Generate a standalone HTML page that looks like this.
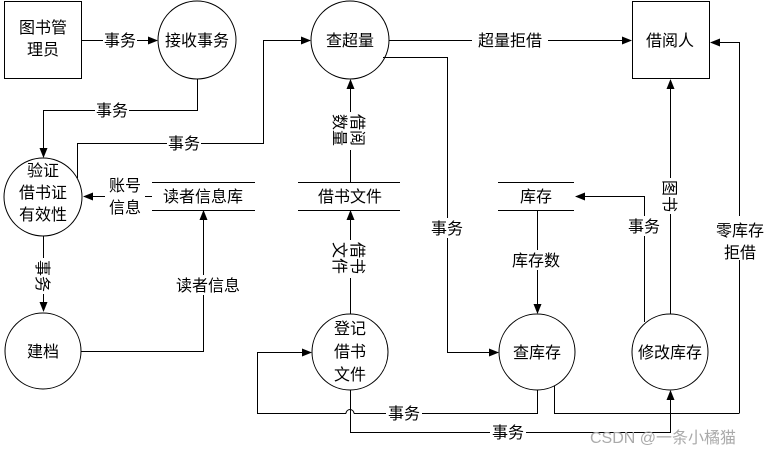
<!DOCTYPE html>
<html><head><meta charset="utf-8"><style>
html,body{margin:0;padding:0;background:#fff;}
svg{display:block;}
text{font-family:"Liberation Sans","Noto Sans CJK SC",sans-serif;font-size:16px;fill:#000;}
</style></head><body>
<svg width="778" height="454" viewBox="0 0 778 454" xmlns="http://www.w3.org/2000/svg">
<defs><marker id="a" markerWidth="10" markerHeight="8" refX="9" refY="4" orient="auto" markerUnits="userSpaceOnUse"><path d="M0,0 L10,4 L0,8 z" fill="#000"/></marker></defs>
<g fill="none" stroke="#000" stroke-width="1">
<rect x="4.5" y="1.5" width="77" height="77"/>
<rect x="252.5" y="1.5" width="0" height="0"/>
<rect x="632.5" y="1.5" width="77" height="77"/>
<circle cx="197" cy="40" r="39"/>
<circle cx="350" cy="40" r="39"/>
<circle cx="43" cy="197" r="39"/>
<circle cx="43" cy="351" r="38"/>
<circle cx="350" cy="352" r="38"/>
<circle cx="537" cy="352" r="38"/>
<circle cx="670" cy="352" r="38"/>
<!-- stores -->
<path d="M152 182.5H255M152 210.5H255"/>
<path d="M298 182.5H400M298 210.5H400"/>
<path d="M498 182.5H574M498 210.5H574"/>
<!-- connectors -->
<path d="M81 40.5H157" marker-end="url(#a)"/>
<path d="M197.5 79V110.5H43.5V157" marker-end="url(#a)"/>
<path d="M77.5 178V143.5H263.5V40.5H310" marker-end="url(#a)"/>
<path d="M152 196.5H84" marker-end="url(#a)"/>
<path d="M81 351.5H203.5V211" marker-end="url(#a)"/>
<path d="M389 40.5H631" marker-end="url(#a)"/>
<path d="M383 57.5H447.5V352.5H498" marker-end="url(#a)"/>
<path d="M350.5 182V80" marker-end="url(#a)"/>
<path d="M350.5 314V211" marker-end="url(#a)"/>
<path d="M537.5 210V313" marker-end="url(#a)"/>
<path d="M644.5 322V196.5H576" marker-end="url(#a)"/>
<path d="M670.5 314V80" marker-end="url(#a)"/>
<path d="M739.5 413V42.5H711" marker-end="url(#a)"/>
<path d="M554.5 386V413.5H739.5"/>
<path d="M537.5 390V413.5H354M346 413.5H257.5V352.5H311" marker-end="url(#a)"/>
<path d="M346 413.5A4 4 0 0 1 354 413.5"/>
<path d="M350.5 390V432.5H670.5V391" marker-end="url(#a)"/>
<path d="M43.5 236V311" marker-end="url(#a)"/>
</g>
<!-- label backgrounds -->
<g fill="#fff">
<rect x="103" y="30" width="34" height="20"/>
<rect x="95" y="100" width="34" height="20"/>
<rect x="167" y="133" width="34" height="20"/>
<rect x="105" y="175" width="40" height="42"/>
<rect x="172" y="275" width="72" height="20"/>
<rect x="472" y="30" width="76" height="20"/>
<rect x="429" y="218" width="36" height="20"/>
<rect x="505" y="250" width="62" height="20"/>
<rect x="624" y="216" width="40" height="20"/>
<rect x="714" y="216" width="52" height="44"/>
<rect x="386" y="403" width="36" height="20"/>
<rect x="490" y="422" width="36" height="20"/>
<rect x="329" y="112" width="42" height="38"/>
<rect x="329" y="240" width="42" height="38"/>
<rect x="30" y="258" width="26" height="36"/>
<rect x="658" y="178" width="26" height="36"/>
</g>
<g text-anchor="middle">
<text x="43" y="33">图书管</text><text x="43" y="55">理员</text>
<text x="197" y="46">接收事务</text>
<text x="350" y="46">查超量</text>
<text x="670" y="46">借阅人</text>
<text x="43" y="176">验证</text><text x="43" y="198">借书证</text><text x="43" y="220">有效性</text>
<text x="43" y="357">建档</text>
<text x="350" y="334">登记</text><text x="350" y="357">借书</text><text x="350" y="380">文件</text>
<text x="537" y="358">查库存</text>
<text x="670" y="358">修改库存</text>
<text x="203" y="202">读者信息库</text>
<text x="350" y="202">借书文件</text>
<text x="536" y="202">库存</text>
<text x="120" y="46">事务</text>
<text x="112" y="116">事务</text>
<text x="184" y="149">事务</text>
<text x="125" y="191">账号</text><text x="125" y="213">信息</text>
<text x="208" y="291">读者信息</text>
<text x="510" y="46">超量拒借</text>
<text x="447" y="234">事务</text>
<text x="536" y="266">库存数</text>
<text x="644" y="232">事务</text>
<text x="740" y="236">零库存</text><text x="740" y="258">拒借</text>
<text x="404" y="419">事务</text>
<text x="508" y="438">事务</text>
<text transform="translate(350,130) rotate(90)" y="-2">借阅</text>
<text transform="translate(350,130) rotate(90)" y="16">数量</text>
<text transform="translate(350,258) rotate(90)" y="-2">借书</text>
<text transform="translate(350,258) rotate(90)" y="16">文件</text>
<text transform="translate(43,276) rotate(90)" y="6">事务</text>
<text transform="translate(670,196) rotate(90)" y="6">图书</text>
</g>
<text x="590" y="443" style="font-size:16px;fill:#aaa;">CSDN @一条小橘猫</text>
</svg>
</body></html>
